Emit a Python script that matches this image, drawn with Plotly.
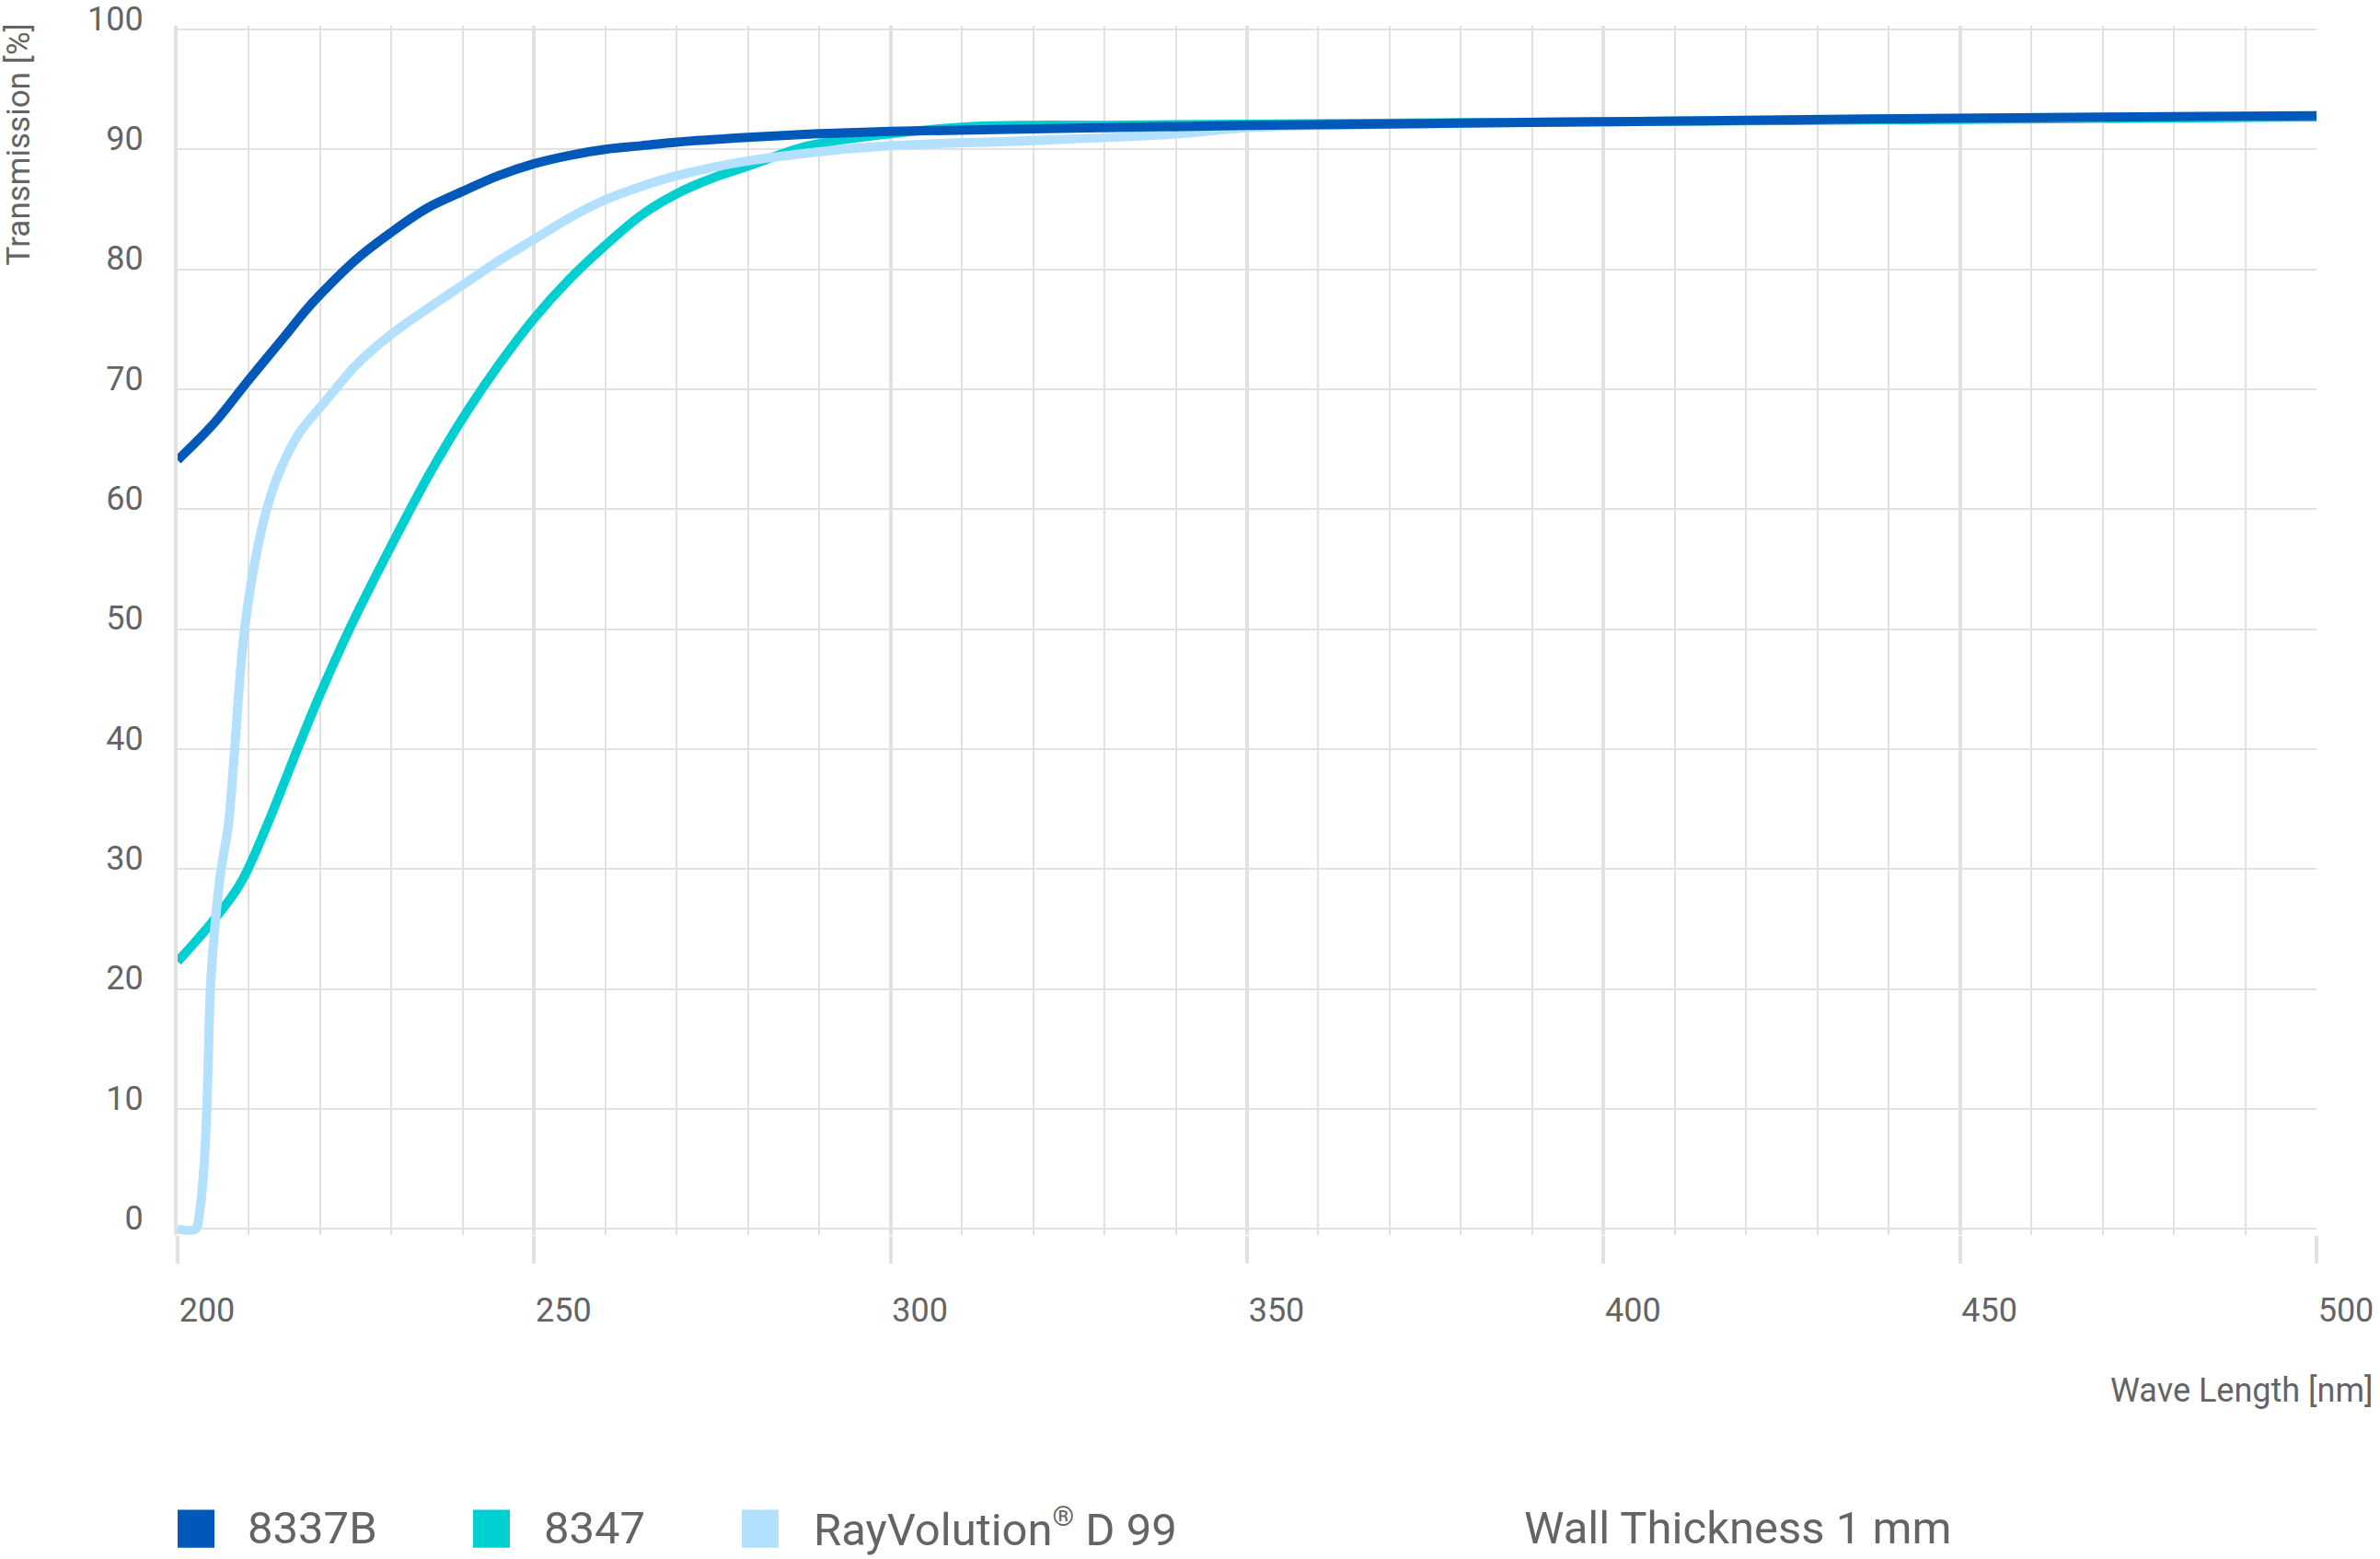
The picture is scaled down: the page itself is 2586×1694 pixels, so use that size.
import plotly.graph_objects as go

# ---- data ----
series_names = ["8337B", "8347", "RayVolution<sup><span style='font-size:30px'>®</span></sup> D 99"]
note_text = "Wall Thickness 1 mm"
x_title = "Wave Length [nm]"
y_title = "Transmission [%]"

wl_8337b = [200, 205, 210, 215, 218, 220, 225, 230, 235, 240, 245, 250, 255, 260,
            265, 270, 280, 290, 300, 320, 350, 400, 450, 500]
t_8337b = [64.1, 67.1, 70.8, 74.4, 76.6, 77.9, 80.8, 83.1, 85.1, 86.5, 87.8, 88.8, 89.5, 90.0,
           90.3, 90.6, 91.0, 91.3, 91.5, 91.7, 92.0, 92.3, 92.6, 92.8]

wl_8347 = [200, 205, 208.8, 212.5, 216.8, 220, 224.5, 230, 235, 240, 245, 250, 255,
           260, 265, 270, 275, 280, 288.5, 300, 311.5, 320, 330, 350, 400, 450, 500]
t_8347 = [22.3, 25.7, 28.8, 33.6, 40.0, 44.6, 50.5, 57.0, 62.6, 67.6, 72.0, 75.9, 79.2,
          82.0, 84.5, 86.3, 87.6, 88.6, 90.3, 91.3, 91.9, 92.0, 92.0, 92.1, 92.3, 92.5, 92.7]

wl_d99 = [200, 202.5, 203.1, 203.7, 204.1, 204.6, 205.3, 206.1, 207.1, 208.0, 209.2, 210.8,
          212.5, 214.2, 217, 221, 225, 230, 235, 240, 245, 250, 255, 260, 265, 270, 278.6,
          288.5, 300, 318, 338, 350, 360, 400, 450, 500]
t_d99 = [0.0, 0.0, 1.5, 5.2, 10.0, 20.0, 25.7, 30.0, 33.6, 40.0, 49.0, 55.5,
         60.0, 63.0, 66.3, 69.2, 72.0, 74.6, 76.7, 78.7, 80.7, 82.5, 84.3, 85.8, 86.9, 87.8, 88.9,
         89.7, 90.3, 90.7, 91.2, 91.8, 92.0, 92.3, 92.6, 92.8]

x_ticks = [200, 250, 300, 350, 400, 450, 500]
y_ticks = [0, 10, 20, 30, 40, 50, 60, 70, 80, 90, 100]

# ---- style ----
C_DARK = "#0059B9"
C_TEAL = "#00CFD2"
C_LIGHT = "#B3E0FE"
GRID = "#E1E1E1"
TXT = "#646464"
FONT = "Roboto"

W, H = 2586, 1694
L, R = 193, 2517          # plot area px
Y0PX, YTOP = 1335, 32     # px of y=0 and y=100
ppu = (Y0PX - YTOP) / 100.0
ymin, ymax = -0.5, 100.3
top_px = YTOP - (ymax - 100) * ppu
bot_px = Y0PX - ymin * ppu
pw = R - L
ph = bot_px - top_px


def px2x(px):
    return (px - L) / pw


def px2y(py):
    return (bot_px - py) / ph


fig = go.Figure()
fig.add_trace(go.Scatter(x=wl_8347, y=t_8347, mode="lines",
                         line=dict(color=C_TEAL, width=10, shape="spline", smoothing=1.0),
                         name="8347", showlegend=False))
fig.add_trace(go.Scatter(x=wl_d99, y=t_d99, mode="lines",
                         line=dict(color=C_LIGHT, width=10, shape="spline", smoothing=0.9),
                         name="RayVolution D 99", showlegend=False))
fig.add_trace(go.Scatter(x=wl_8337b, y=t_8337b, mode="lines",
                         line=dict(color=C_DARK, width=10, shape="spline", smoothing=1.0),
                         name="8337B", showlegend=False))

annotations = []
shapes = []
# axis titles
annotations.append(dict(text=y_title, xref="paper", yref="paper", x=px2x(20), y=px2y(24),
                        xanchor="center", yanchor="top", textangle=-90, showarrow=False,
                        font=dict(family=FONT, size=35, color=TXT)))
annotations.append(dict(text=x_title, xref="paper", yref="paper", x=px2x(2581), y=px2y(1510),
                        xanchor="right", yanchor="middle", showarrow=False,
                        font=dict(family=FONT, size=36, color=TXT)))

# manual legend
leg_colors = [C_DARK, C_TEAL, C_LIGHT]
sq_left = [193, 514, 806]
txt_left = [267, 589, 882]
for name, col, sl, tl in zip(series_names, leg_colors, sq_left, txt_left):
    shapes.append(dict(type="rect", xref="paper", yref="paper",
                       x0=px2x(sl), x1=px2x(sl + 40), y0=px2y(1681), y1=px2y(1640),
                       fillcolor=col, line=dict(width=0)))
    annotations.append(dict(text=name, xref="paper", yref="paper", x=px2x(tl), y=px2y(1660),
                            xanchor="left", yanchor="middle", showarrow=False,
                            font=dict(family=FONT, size=49, color=TXT)))
annotations.append(dict(text=note_text, xref="paper", yref="paper", x=px2x(1654), y=px2y(1660),
                        xanchor="left", yanchor="middle", showarrow=False,
                        font=dict(family=FONT, size=49, color=TXT)))

fig.update_layout(
    width=W, height=H,
    margin=dict(l=L, r=W - R, t=top_px, b=H - bot_px, pad=0, autoexpand=False),
    paper_bgcolor="white", plot_bgcolor="white",
    showlegend=False,
    annotations=annotations, shapes=shapes,
    xaxis=dict(range=[200, 500], tickvals=x_ticks, ticktext=[str(v) for v in x_ticks],
               showgrid=True, gridcolor=GRID, gridwidth=4,
               minor=dict(dtick=10, tick0=200, showgrid=True, gridcolor=GRID, gridwidth=2, ticks=""),
               ticks="outside", ticklen=30, tickwidth=4, tickcolor=GRID,
               zeroline=False, showline=False, automargin=False,
               tickfont=dict(family=FONT, size=36, color=TXT),
               ticklabelshift=32, ticklabelstandoff=20, ticklabeloverflow="allow"),
    yaxis=dict(range=[ymin, ymax], tickvals=y_ticks, ticktext=[str(v) for v in y_ticks],
               showgrid=True, gridcolor=GRID, gridwidth=2,
               showline=True, linecolor=GRID, linewidth=4,
               zeroline=False, ticks="", automargin=False,
               tickfont=dict(family=FONT, size=36, color=TXT),
               ticklabelshift=-12, ticklabelstandoff=26, ticklabeloverflow="allow"),
)

fig.write_html("out.html")
